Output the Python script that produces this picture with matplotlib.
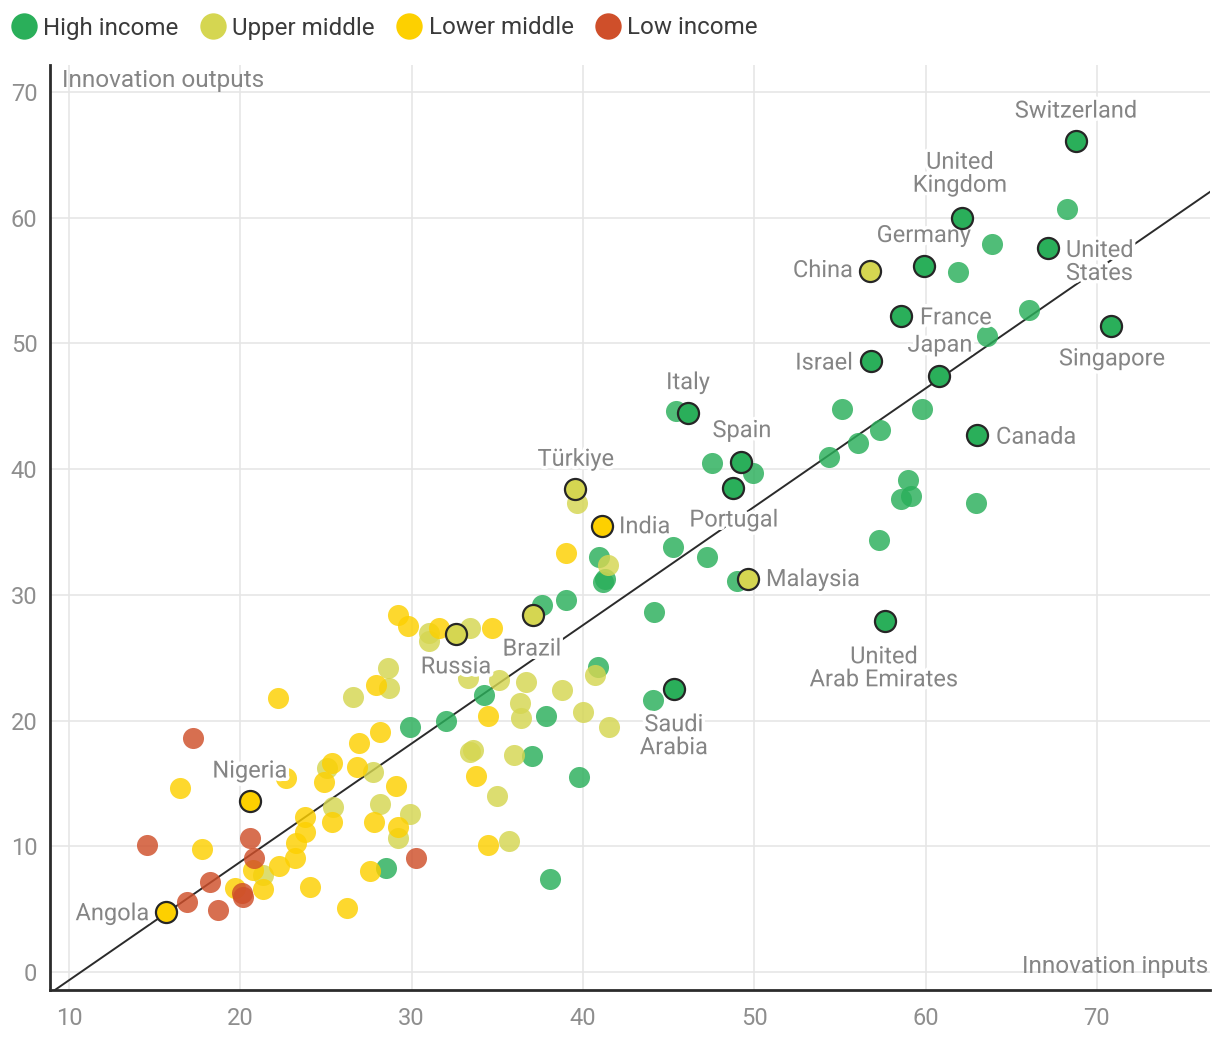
import matplotlib
matplotlib.use("Agg")
import matplotlib.pyplot as plt
import matplotlib.patheffects as pe
from matplotlib.lines import Line2D
import numpy as np

plt.rcParams['font.family'] = ['Roboto', 'DejaVu Sans']

# ---------------- data ----------------
groups = ["High income", "Upper middle", "Lower middle", "Low income"]
group_colors = {"High income": "#2aaf5a", "Upper middle": "#d5d651",
                "Lower middle": "#fdd000", "Low income": "#cf4f2a"}

# unlabelled economies (innovation inputs, innovation outputs)
high_x = [68.25, 63.87, 61.89, 66.03, 63.58, 55.12, 59.79, 57.34, 56.05, 54.36,
          58.97, 59.14, 58.56, 62.94, 57.28, 45.43, 47.53, 49.92, 45.25, 47.24,
          48.99, 40.93, 41.28, 41.17, 44.14, 39.0, 37.6, 40.88, 44.09, 34.22,
          32.0, 29.9, 37.84, 37.02, 39.77, 28.5, 38.07]
high_y = [60.7, 57.9, 55.7, 52.7, 50.6, 44.8, 44.8, 43.1, 42.1, 41.0,
          39.1, 37.9, 37.6, 37.3, 34.4, 44.6, 40.5, 39.7, 33.8, 33.0,
          31.1, 33.0, 31.3, 31.0, 28.6, 29.6, 29.2, 24.3, 21.6, 22.0,
          20.0, 19.5, 20.4, 17.2, 15.5, 8.3, 7.4]

upper_x = [39.65, 41.46, 40.7, 33.4, 31.0, 31.0, 28.6, 28.7, 26.6, 33.3,
           35.1, 36.67, 36.3, 36.4, 38.8, 40.0, 41.5, 33.4, 33.6, 36.0,
           35.0, 35.7, 25.06, 27.74, 28.15, 29.9, 29.2, 25.4, 21.3]
upper_y = [37.3, 32.4, 23.6, 27.4, 27.0, 26.3, 24.2, 22.6, 21.9, 23.4,
           23.2, 23.1, 21.4, 20.2, 22.4, 20.7, 19.5, 17.5, 17.7, 17.3,
           14.0, 10.4, 16.2, 15.9, 13.4, 12.6, 10.7, 13.1, 7.7]

lower_x = [39.0, 29.2, 29.8, 31.6, 34.7, 27.9, 34.46, 28.15, 26.9, 25.35,
           24.9, 26.8, 29.1, 33.75, 25.35, 27.8, 29.2, 27.57, 34.46, 23.8,
           23.8, 23.25, 23.2, 24.07, 26.2, 22.2, 16.48, 17.76, 22.67, 22.26,
           20.74, 19.69, 21.3]
lower_y = [33.3, 28.4, 27.5, 27.4, 27.4, 22.8, 20.4, 19.1, 18.2, 16.6,
           15.1, 16.3, 14.8, 15.6, 11.9, 11.9, 11.5, 8.0, 10.1, 12.3,
           11.1, 10.3, 9.1, 6.8, 5.1, 21.8, 14.6, 9.8, 15.4, 8.4,
           8.1, 6.7, 6.6]

low_x = [30.25, 17.24, 14.55, 20.56, 20.8, 18.23, 16.89, 18.7, 20.1, 20.16]
low_y = [9.1, 18.6, 10.1, 10.7, 9.1, 7.2, 5.6, 4.9, 6.3, 6.0]

# labelled economies
lab_names = ["Switzerland", "United\nKingdom", "Germany", "United\nStates", "China",
             "France", "Singapore", "Israel", "Japan", "Canada", "Italy", "Spain",
             "Portugal", "Türkiye", "India", "Malaysia", "United\nArab Emirates",
             "Brazil", "Russia", "Saudi\nArabia", "Nigeria", "Angola"]
lab_x = [68.78, 62.12, 59.9, 67.14, 56.75, 58.56, 70.82, 56.81, 60.78, 63.0,
         46.13, 49.22, 48.75, 39.53, 41.11, 49.63, 57.63, 37.08, 32.59, 45.31,
         20.56, 15.66]
lab_y = [66.1, 60.0, 56.2, 57.6, 55.8, 52.2, 51.4, 48.6, 47.4, 42.7,
         44.5, 40.6, 38.5, 38.4, 35.5, 31.3, 27.9, 28.4, 26.9, 22.5,
         13.6, 4.8]
lab_group = ["High income", "High income", "High income", "High income", "Upper middle",
             "High income", "High income", "High income", "High income", "High income",
             "High income", "High income", "High income", "Upper middle", "Lower middle",
             "Upper middle", "High income", "Upper middle", "Upper middle", "High income",
             "Lower middle", "Lower middle"]

# trend line (as drawn in the chart)
trend_slope = 0.9416
trend_intercept = -10.07

x_ticks = [10, 20, 30, 40, 50, 60, 70]
y_ticks = [0, 10, 20, 30, 40, 50, 60, 70]

# label placement (offset in pixels, horizontal alignment)
label_style = {
    "Switzerland": (0, 30, "center"), "United\nKingdom": (-2, 44, "center"),
    "Germany": (0, 30, "center"), "United\nStates": (18, -14, "left"),
    "China": (-17, 0, "right"), "France": (19, -2, "left"),
    "Singapore": (1, -33, "center"), "Israel": (-18, -2, "right"),
    "Japan": (1, 31, "center"), "Canada": (19, -2, "left"),
    "Italy": (0, 30, "center"), "Spain": (1, 31, "center"),
    "Portugal": (1, -32, "center"), "Türkiye": (1, 30, "center"),
    "India": (17, -1, "left"), "Malaysia": (18, -1, "left"),
    "United\nArab Emirates": (-1, -47, "center"), "Brazil": (-1, -34, "center"),
    "Russia": (0, -33, "center"), "Saudi\nArabia": (0, -47, "center"),
    "Nigeria": (0, 30, "center"), "Angola": (-17, -2, "right"),
}

FS = 17.0
FS_AX = 17.6
TXT = "#858585"

# ---------------- figure ----------------
fig = plt.figure(figsize=(12.2, 10.44), dpi=100)
ax = fig.add_axes([50 / 1220, 1 - 990 / 1044, 1160 / 1220, 925 / 1044])

xmin, xmax = 8.89, 76.6
ymin, ymax = -1.43, 72.15
ax.set_xlim(xmin, xmax)
ax.set_ylim(ymin, ymax)

ax.set_xticks(x_ticks)
ax.set_yticks(y_ticks)
ax.grid(True, color="#e6e6e6", linewidth=1.2, zorder=0)
ax.set_axisbelow(True)
ax.tick_params(length=0, labelsize=FS, labelcolor="#8e8e8e")
ax.tick_params(axis="y", pad=9)
ax.tick_params(axis="x", pad=12)
for s in ["top", "right"]:
    ax.spines[s].set_visible(False)
for s in ["left", "bottom"]:
    ax.spines[s].set_color("#2b2b2b")
    ax.spines[s].set_linewidth(2)

# trend line
xs = np.array([xmin, xmax])
ax.plot(xs, trend_slope * xs + trend_intercept, color="#2b2b2b", lw=1.4, zorder=2)

ms = 230
series = [("High income", high_x, high_y), ("Upper middle", upper_x, upper_y),
          ("Lower middle", lower_x, lower_y), ("Low income", low_x, low_y)]
for g, xv, yv in series:
    ax.scatter(xv, yv, s=ms, color=group_colors[g], alpha=0.82, linewidths=0, zorder=3)

halo = [pe.withStroke(linewidth=5, foreground="white")]
for name, x, y, g in zip(lab_names, lab_x, lab_y, lab_group):
    dx, dy, ha = label_style[name]
    ax.annotate(name, (x, y), xytext=(dx, dy), textcoords="offset pixels",
                ha=ha, va="center", fontsize=FS, color=TXT,
                linespacing=1.0, zorder=4, path_effects=halo)
for name, x, y, g in zip(lab_names, lab_x, lab_y, lab_group):
    ax.scatter([x], [y], s=ms, color=group_colors[g], edgecolors="#262626",
               linewidths=1.6, zorder=5)

ax.text(12 / 1160, (990 - 80) / 925, "Innovation outputs", transform=ax.transAxes,
        ha="left", va="center", fontsize=FS_AX, color=TXT, zorder=4)
ax.text(1158 / 1160, (990 - 966) / 925, "Innovation inputs", transform=ax.transAxes,
        ha="right", va="center", fontsize=FS_AX, color=TXT, zorder=4)

handles = [Line2D([], [], marker="o", linestyle="", markersize=19,
                  markerfacecolor=group_colors[g], markeredgewidth=0) for g in groups]
fig.legend(handles, groups, loc="center left", bbox_to_anchor=(12 / 1220, 1 - 28 / 1044),
           ncol=4, frameon=False, handlelength=1.0, handletextpad=0.3,
           columnspacing=0.92, borderaxespad=0, borderpad=0, labelcolor="#3a3a3a",
           prop={"size": 17.4})

fig.savefig("out.png", dpi=100)
